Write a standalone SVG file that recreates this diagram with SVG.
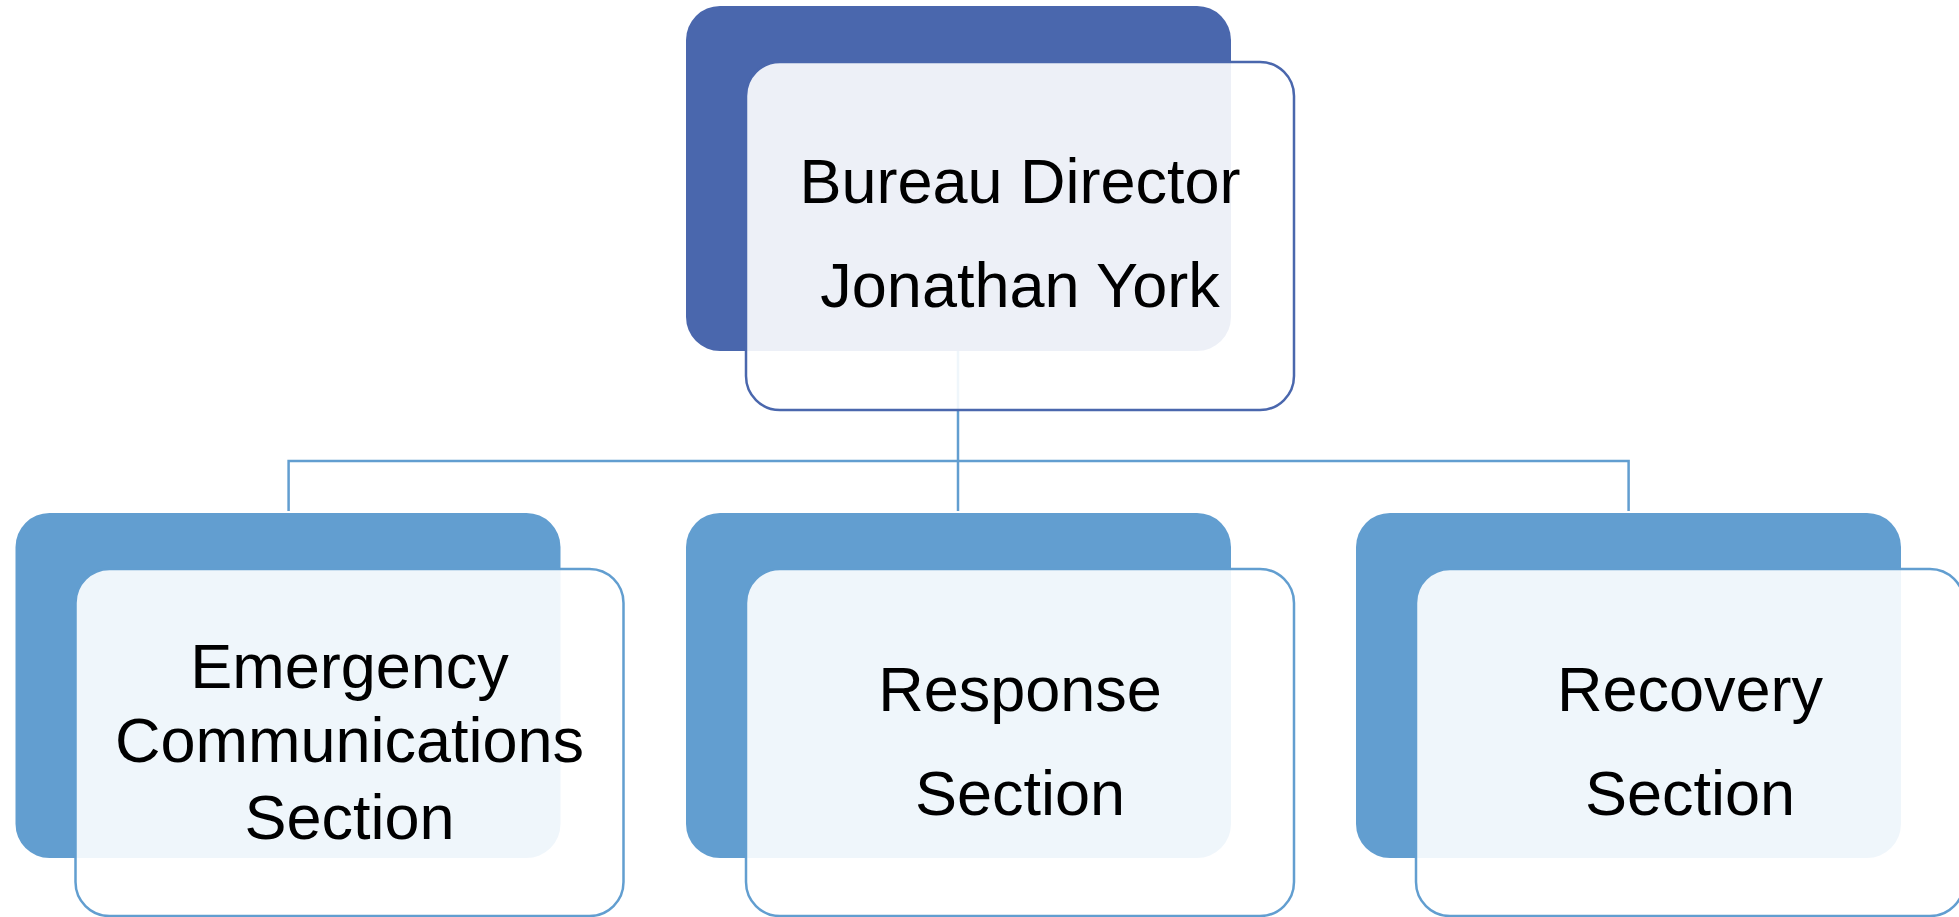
<svg xmlns="http://www.w3.org/2000/svg" width="1959" height="917" viewBox="0 0 1959 917">
<style>
.bg{fill:#ffffff}
.back1{fill:#4A67AD}
.front1{fill:#ffffff;fill-opacity:0.9;stroke:#4A67AD;stroke-width:2.5}
.back2{fill:#629ED0}
.front2{fill:#ffffff;fill-opacity:0.9;stroke:#629ED0;stroke-width:2.5}
.conn{fill:none;stroke:#629ED0;stroke-width:2.5}
.t{font-family:"Liberation Sans",Arial,sans-serif;font-size:63px;fill:#000000;text-anchor:middle}
</style>
<rect class="bg" x="0" y="0" width="1959" height="917"/>
<g id="connectors">
<path class="conn" d="M958,351 V511"/>
<path class="conn" d="M288.6,511 V461 H1628.6 V511"/>
</g>
<g id="node-director">
<rect class="back1" x="686" y="6" width="545" height="345" rx="34" ry="34"/>
<rect class="front1" x="746" y="62" width="548" height="348" rx="34" ry="34"/>
<text class="t" x="1020" y="203">Bureau Director</text>
<text class="t" x="1020" y="307">Jonathan York</text>
</g>
<g id="node-emergency">
<rect class="back2" x="15.5" y="513" width="545" height="345" rx="34" ry="34"/>
<rect class="front2" x="75.5" y="569" width="548" height="347" rx="34" ry="34"/>
<text class="t" x="349.5" y="688">Emergency</text>
<text class="t" x="349.5" y="762">Communications</text>
<text class="t" x="349.5" y="839">Section</text>
</g>
<g id="node-response">
<rect class="back2" x="686" y="513" width="545" height="345" rx="34" ry="34"/>
<rect class="front2" x="746" y="569" width="548" height="347" rx="34" ry="34"/>
<text class="t" x="1020" y="711">Response</text>
<text class="t" x="1020" y="815">Section</text>
</g>
<g id="node-recovery">
<rect class="back2" x="1356" y="513" width="545" height="345" rx="34" ry="34"/>
<rect class="front2" x="1416" y="569" width="548" height="347" rx="34" ry="34"/>
<text class="t" x="1690" y="711">Recovery</text>
<text class="t" x="1690" y="815">Section</text>
</g>
</svg>
